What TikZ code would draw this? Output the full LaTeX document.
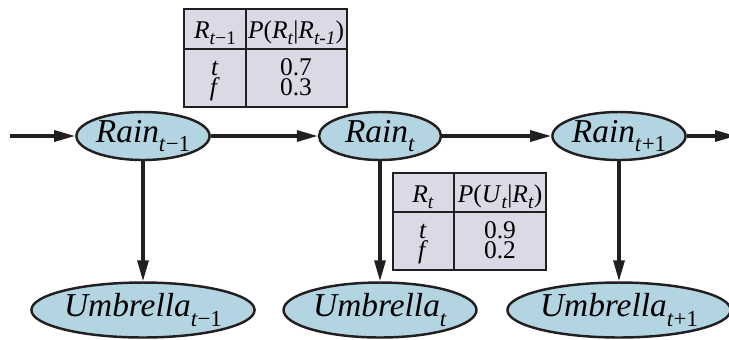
\documentclass[tikz,border=0pt]{standalone}
\usepackage{fontspec}
\setmainfont{Liberation Serif}
\usetikzlibrary{shapes,arrows.meta}
\definecolor{rainfill}{HTML}{B3D4E1}
\definecolor{cptfill}{HTML}{DCD9E7}
\definecolor{inkline}{HTML}{231F20}
\newcommand{\sbs}[1]{\raisebox{-5.5pt}{\fontsize{13}{13}\selectfont #1}}
\newcommand{\tsbs}[1]{\raisebox{-3.5pt}{\fontsize{11}{11}\selectfont #1}}
\tikzset{
    varnode/.style={ellipse, draw=inkline, line width=1.4pt, fill=rainfill,
        inner sep=0pt, font=\fontsize{19}{20}\selectfont},
    cpt/.style={draw=inkline, line width=1pt, fill=cptfill},
    cell/.style={inner sep=0pt, anchor=base, font=\fontsize{14.5}{15}\selectfont},
    link/.style={-{Triangle[length=0.42cm,width=0.22cm]}, line width=1.8pt, draw=inkline}
}

\begin{document}
\begin{tikzpicture}[x=0.02cm, y=-0.02cm]
    \useasboundingbox (0,0) rectangle (729,339);

    \coordinate (in) at (10,136);
    \coordinate (out) at (736,136);

    \node[varnode, minimum width=2.42cm, minimum height=0.96cm] (r0) at (143,136) {\textit{Rain}\sbs{\textit{t}−1}};
    \node[varnode, minimum width=2.44cm, minimum height=0.96cm] (r1) at (380,136) {\textit{Rain}\sbs{\textit{t}}};
    \node[varnode, minimum width=2.6cm, minimum height=0.96cm] (r2) at (619,136) {\textit{Rain}\sbs{\textit{t}+1}};

    \node[varnode, minimum width=3.98cm, minimum height=1.1cm] (u0) at (143,310) {\textit{Umbrella}\sbs{\textit{t}−1}};
    \node[varnode, minimum width=3.86cm, minimum height=1.1cm] (u1) at (380,310) {\textit{Umbrella}\sbs{\textit{t}}};
    \node[varnode, minimum width=3.9cm, minimum height=1.1cm] (u2) at (619,310) {\textit{Umbrella}\sbs{\textit{t}+1}};

    \draw[link] (in) to (r0);
    \draw[link] (r0) to (r1);
    \draw[link] (r1) to (r2);
    \draw[link] (r2) to (out);
    \draw[link] (r0) to (u0);
    \draw[link] (r1) to (u1);
    \draw[link] (r2) to (u2);

    % transition table
    \draw[cpt] (184,9) rectangle (347,107);
    \draw[cpt] (246,9) -- (246,107);
    \draw[cpt] (184,49) -- (347,49);
    \node[cell] (th0) at (215,38) {\textit{R}\tsbs{\textit{t}−1}};
    \node[cell] (th1) at (296,38) {\textit{P}(\textit{R}\tsbs{\textit{t}}|\textit{R}\tsbs{\textit{t-1}})};
    \node[cell] (tt0) at (215,75) {\textit{t}};
    \node[cell] (tt1) at (296,75) {0.7};
    \node[cell] (tf0) at (215,95) {\textit{f}};
    \node[cell] (tf1) at (296,95) {0.3};

    % sensor table
    \draw[cpt] (393,173) rectangle (546,270);
    \draw[cpt] (454,173) -- (454,270);
    \draw[cpt] (393,212) -- (546,212);
    \node[cell] (sh0) at (423,202) {\textit{R}\tsbs{\textit{t}}};
    \node[cell] (sh1) at (500,202) {\textit{P}(\textit{U}\tsbs{\textit{t}}|\textit{R}\tsbs{\textit{t}})};
    \node[cell] (st0) at (423,238) {\textit{t}};
    \node[cell] (st1) at (500,238) {0.9};
    \node[cell] (sf0) at (423,258) {\textit{f}};
    \node[cell] (sf1) at (500,258) {0.2};
\end{tikzpicture}
\end{document}
